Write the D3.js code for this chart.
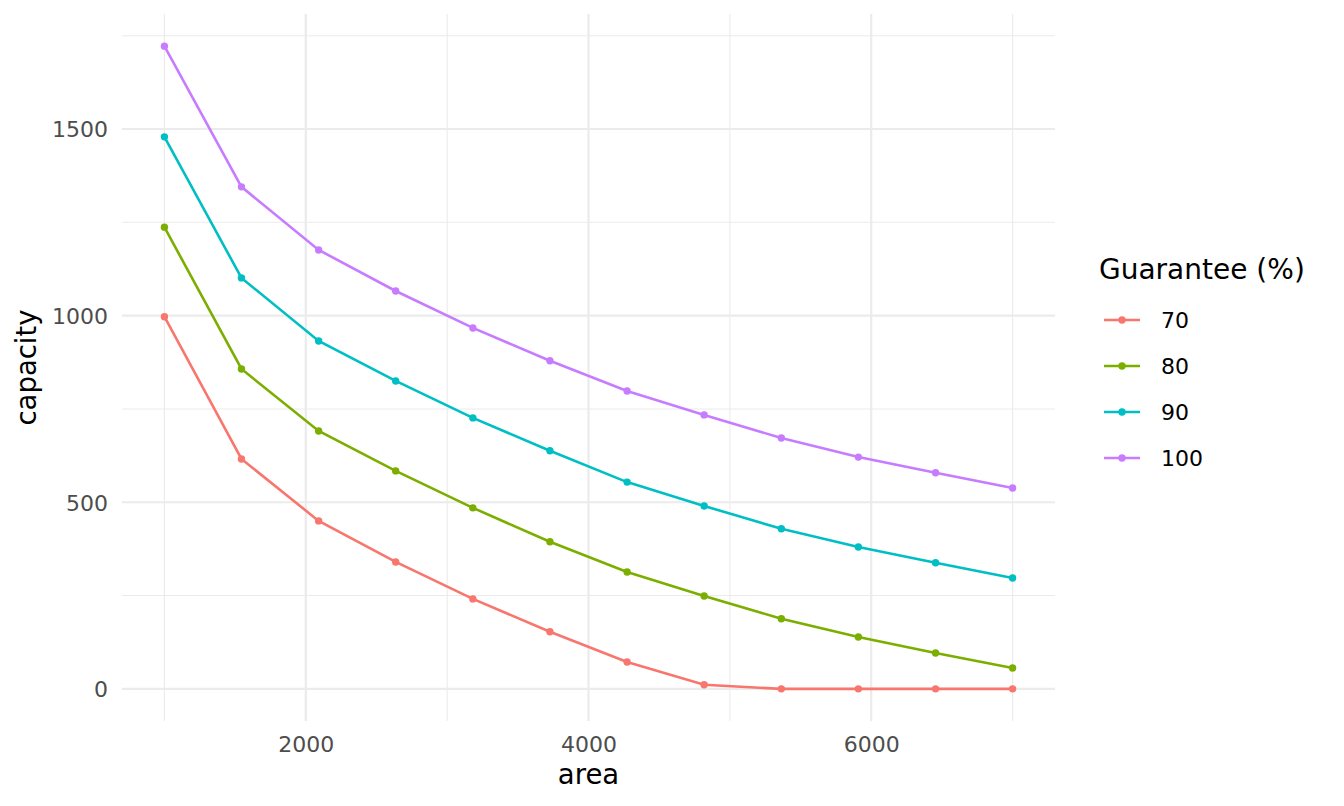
<!DOCTYPE html>
<html><head><meta charset="utf-8">
<script src="https://cdn.jsdelivr.net/npm/d3@7"></script>
<style>body{margin:0;background:#fff}svg{display:block}text{font-family:"DejaVu Sans",sans-serif}</style>
</head><body><svg id="c" width="1344" height="806"></svg>
<script>
const areas = [1000, 1545, 2091, 2636, 3182, 3727, 4273, 4818, 5364, 5909, 6455, 7000];
const guarantees = ["70", "80", "90", "100"];
const cap70  = [997, 616, 450, 340, 241, 153, 72, 11, 0, 0, 0, 0];
const cap80  = [1237, 857, 691, 584, 485, 394, 313, 249, 188, 139, 96, 56];
const cap90  = [1479, 1101, 932, 825, 726, 638, 554, 490, 429, 380, 338, 297];
const cap100 = [1722, 1345, 1176, 1066, 967, 879, 798, 734, 672, 621, 579, 538];
const xTicks = [2000, 4000, 6000];
const xMinor = [1000, 3000, 5000, 7000];
const yTicks = [0, 500, 1000, 1500];
const yMinor = [250, 750, 1250, 1750];
const colors = ["#F8766D", "#7CAE00", "#00BFC4", "#C77CFF"];

const seriesVals = [cap70, cap80, cap90, cap100];
const series = guarantees.map((g, i) => ({g, color: colors[i], pts: areas.map((a, j) => ({a, v: seriesVals[i][j]}))}));

const svg = d3.select("#c");
const L = 122, R = 1055, T = 14, B = 721;
const x = d3.scaleLinear().domain([700, 7300]).range([L, R]);
const allV = seriesVals.flat();
const ymax = d3.max(allV), ymin = d3.min(allV);
const pad = (ymax - ymin) * 0.05;
const y = d3.scaleLinear().domain([ymin - pad, ymax + pad]).range([B, T]);

const g = svg.append("g");
g.selectAll(".xm").data(xMinor).join("line").attr("x1", d => x(d)).attr("x2", d => x(d)).attr("y1", T).attr("y2", B).attr("stroke", "#EBEBEB").attr("stroke-width", 1.1);
g.selectAll(".ym").data(yMinor).join("line").attr("y1", d => y(d)).attr("y2", d => y(d)).attr("x1", L).attr("x2", R).attr("stroke", "#EBEBEB").attr("stroke-width", 1.1);
g.selectAll(".xM").data(xTicks).join("line").attr("x1", d => x(d)).attr("x2", d => x(d)).attr("y1", T).attr("y2", B).attr("stroke", "#EBEBEB").attr("stroke-width", 2.2);
g.selectAll(".yM").data(yTicks).join("line").attr("y1", d => y(d)).attr("y2", d => y(d)).attr("x1", L).attr("x2", R).attr("stroke", "#EBEBEB").attr("stroke-width", 2.2);

const xAxis = svg.append("g").attr("transform", `translate(0,${B})`).call(d3.axisBottom(x).tickValues(xTicks).tickSize(0).tickPadding(0).tickFormat(d3.format("d")));
xAxis.select(".domain").remove();
xAxis.selectAll("text").attr("dy", null).attr("y", 31).attr("font-size", 22).attr("fill", "#4D4D4D");
const yAxis = svg.append("g").attr("transform", `translate(${L},0)`).call(d3.axisLeft(y).tickValues(yTicks).tickSize(0).tickPadding(0).tickFormat(d3.format("d")));
yAxis.select(".domain").remove();
yAxis.selectAll("text").attr("x", -14).attr("dy", "0.36em").attr("font-size", 22).attr("fill", "#4D4D4D");

svg.append("text").attr("x", (L + R) / 2).attr("y", 784).attr("text-anchor", "middle").attr("font-size", 27.5).attr("fill", "#000").text("area");
svg.append("text").attr("transform", `translate(36,${(T + B) / 2}) rotate(-90)`).attr("text-anchor", "middle").attr("font-size", 27.5).attr("fill", "#000").text("capacity");

const line = d3.line().x(d => x(d.a)).y(d => y(d.v));
series.forEach(s => {
  svg.append("path").datum(s.pts).attr("d", line).attr("fill", "none").attr("stroke", s.color).attr("stroke-width", 2.6);
  svg.selectAll(null).data(s.pts).join("circle").attr("cx", d => x(d.a)).attr("cy", d => y(d.v)).attr("r", 3.7).attr("fill", s.color);
});

svg.append("text").attr("x", 1099).attr("y", 279).attr("font-size", 28).attr("fill", "#000").text("Guarantee (%)");
const lg = svg.selectAll(".lg").data(series).join("g").attr("transform", (d, i) => `translate(0,${320 + i * 46})`);
lg.append("line").attr("x1", 1104).attr("x2", 1140).attr("stroke", d => d.color).attr("stroke-width", 2.6);
lg.append("circle").attr("cx", 1122).attr("r", 3.7).attr("fill", d => d.color);
lg.append("text").attr("x", 1161).attr("y", 8).attr("font-size", 22).attr("fill", "#000").text(d => d.g);
</script></body></html>
